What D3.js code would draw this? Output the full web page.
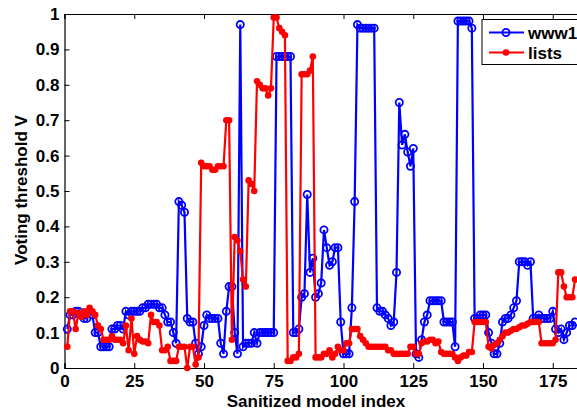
<!DOCTYPE html>
<html>
<head>
<meta charset="utf-8">
<script src="https://cdn.jsdelivr.net/npm/d3@7"></script>
<style>
  body { margin: 0; background: #fff; }
  svg { display: block; font-family: "Liberation Sans", Arial, sans-serif; font-weight: bold; }
</style>
</head>
<body>
<div id="chart"></div>
<script>
const www1 = [0.11,0.15,0.15,0.16,0.16,0.15,0.14,0.14,0.16,0.15,
  0.10,0.10,0.06,0.06,0.06,0.06,0.11,0.11,0.12,0.12,
  0.11,0.16,0.15,0.16,0.16,0.16,0.16,0.17,0.17,0.18,
  0.18,0.18,0.18,0.17,0.17,0.15,0.13,0.13,0.10,0.07,
  0.47,0.46,0.44,0.14,0.13,0.13,0.07,0.04,0.06,0.12,
  0.15,0.14,0.14,0.14,0.14,0.07,0.04,0.16,0.23,0.23,
  0.10,0.04,0.97,0.06,0.07,0.07,0.07,0.10,0.07,0.10,
  0.10,0.10,0.10,0.10,0.10,0.88,0.88,0.88,0.88,0.88,
  0.88,0.10,0.10,0.11,0.20,0.21,0.49,0.27,0.31,0.20,
  0.21,0.24,0.39,0.34,0.29,0.30,0.34,0.34,0.13,0.04,
  0.04,0.04,0.17,0.47,0.97,0.96,0.96,0.96,0.96,0.96,
  0.96,0.17,0.16,0.16,0.15,0.14,0.12,0.13,0.27,0.75,
  0.63,0.66,0.61,0.57,0.62,0.04,0.03,0.08,0.13,0.15,
  0.19,0.19,0.19,0.19,0.19,0.13,0.13,0.13,0.13,0.06,
  0.98,0.98,0.98,0.98,0.98,0.96,0.14,0.14,0.15,0.15,
  0.15,0.10,0.07,0.04,0.04,0.07,0.13,0.14,0.14,0.15,
  0.17,0.19,0.30,0.30,0.30,0.29,0.30,0.14,0.14,0.15,
  0.14,0.14,0.14,0.14,0.16,0.11,0.10,0.11,0.08,0.10,
  0.12,0.12,0.13];

const lists = [0.06,0.16,0.16,0.11,0.155,0.145,0.16,0.15,0.17,0.16,
  0.15,0.12,0.11,0.08,0.08,0.08,0.09,0.08,0.08,0.08,
  0.07,0.12,0.05,0.14,0.04,0.09,0.08,0.075,0.075,0.07,
  0.15,0.13,0.13,0.12,0.05,0.05,0.06,0.02,0.02,0.02,
  0.06,0.06,0.06,0.00,0.06,0.06,0.01,0.03,0.58,0.57,
  0.57,0.57,0.56,0.56,0.57,0.57,0.57,0.70,0.70,0.08,
  0.37,0.36,0.33,0.25,0.23,0.53,0.52,0.50,0.81,0.80,
  0.79,0.79,0.77,0.79,0.99,0.99,0.96,0.95,0.94,0.02,
  0.02,0.03,0.03,0.04,0.83,0.83,0.83,0.84,0.88,0.03,
  0.03,0.03,0.04,0.04,0.05,0.03,0.04,0.06,0.05,0.05,
  0.07,0.07,0.11,0.11,0.11,0.09,0.08,0.07,0.06,0.06,
  0.06,0.06,0.06,0.06,0.06,0.05,0.05,0.04,0.04,0.04,
  0.04,0.04,0.04,0.06,0.06,0.04,0.04,0.07,0.075,0.075,
  0.08,0.08,0.07,0.075,0.045,0.04,0.04,0.04,0.04,0.03,
  0.02,0.03,0.035,0.035,0.045,0.045,0.13,0.13,0.13,0.13,
  0.13,0.06,0.055,0.065,0.07,0.08,0.09,0.10,0.10,0.105,
  0.11,0.11,0.115,0.12,0.12,0.125,0.13,0.13,0.13,0.13,
  0.07,0.07,0.07,0.07,0.07,0.08,0.27,0.27,0.23,0.20,
  0.20,0.20,0.25];

const seriesNames = ["www1", "lists"];
const xTicks = [0, 25, 50, 75, 100, 125, 150, 175];
const yTicks = [0, 0.1, 0.2, 0.3, 0.4, 0.5, 0.6, 0.7, 0.8, 0.9, 1];

const W = 577, H = 410;
const plotLeft = 64.5, plotTop = 14, plotBottom = 368;

const svg = d3.select("#chart").append("svg")
  .attr("width", W).attr("height", H);

const x = d3.scaleLinear().domain([0, 185]).range([plotLeft, plotLeft + 2.79 * 185]);
const y = d3.scaleLinear().domain([0, 1]).range([plotBottom, plotTop]);

// axes box (left, bottom, top)
svg.append("g")
  .attr("transform", `translate(0,${plotBottom})`)
  .call(d3.axisBottom(x).tickValues(xTicks).tickSize(-5).tickPadding(7).tickFormat(d3.format("d")))
  .call(g => g.select(".domain").attr("stroke-width", 1.2))
  .call(g => g.selectAll("text").attr("font-size", 17).attr("font-weight", "bold").attr("fill", "#000"));

svg.append("g")
  .attr("transform", `translate(0,${plotTop})`)
  .call(d3.axisTop(x).tickValues(xTicks).tickSize(-5).tickFormat(""))
  .call(g => g.select(".domain").attr("stroke-width", 1));

svg.append("g")
  .attr("transform", `translate(${plotLeft},0)`)
  .call(d3.axisLeft(y).tickValues(yTicks).tickSize(-5).tickPadding(5).tickFormat(d => d3.format("~g")(d)))
  .call(g => g.select(".domain").attr("stroke-width", 1.2))
  .call(g => g.selectAll("text").attr("font-size", 17).attr("font-weight", "bold").attr("fill", "#000"));

// axis labels
svg.append("text")
  .attr("x", 316).attr("y", 407)
  .attr("text-anchor", "middle")
  .attr("font-size", 17)
  .text("Sanitized model index");

svg.append("text")
  .attr("transform", `translate(27,190) rotate(-90)`)
  .attr("text-anchor", "middle")
  .attr("font-size", 17)
  .text("Voting threshold V");

const line = d3.line().x((d, i) => x(i + 1)).y(d => y(d));

// www1: blue line with open circles
svg.append("path")
  .datum(www1)
  .attr("fill", "none").attr("stroke", "#0000ff").attr("stroke-width", 2.2)
  .attr("d", line);
svg.append("g").selectAll("circle")
  .data(www1).join("circle")
  .attr("cx", (d, i) => x(i + 1)).attr("cy", d => y(d))
  .attr("r", 3.6)
  .attr("fill", "none").attr("stroke", "#0000ff").attr("stroke-width", 1.8);

// lists: red line with filled dots
svg.append("path")
  .datum(lists)
  .attr("fill", "none").attr("stroke", "#ff0000").attr("stroke-width", 2.2)
  .attr("d", line);
svg.append("g").selectAll("circle")
  .data(lists).join("circle")
  .attr("cx", (d, i) => x(i + 1)).attr("cy", d => y(d))
  .attr("r", 3.3)
  .attr("fill", "#ff0000");

// legend
const lg = svg.append("g");
lg.append("rect")
  .attr("x", 482).attr("y", 19.5).attr("width", 110).attr("height", 45)
  .attr("fill", "#fff").attr("stroke", "#000").attr("stroke-width", 1);
const colors = ["#0000ff", "#ff0000"];
seriesNames.forEach((name, k) => {
  const ly = 32.5 + k * 20;
  lg.append("line")
    .attr("x1", 489).attr("x2", 524).attr("y1", ly).attr("y2", ly)
    .attr("stroke", colors[k]).attr("stroke-width", 2.2);
  if (k === 0) {
    lg.append("circle").attr("cx", 506).attr("cy", ly).attr("r", 3.6)
      .attr("fill", "none").attr("stroke", colors[k]).attr("stroke-width", 1.8);
  } else {
    lg.append("circle").attr("cx", 506).attr("cy", ly).attr("r", 3.3)
      .attr("fill", colors[k]);
  }
  lg.append("text")
    .attr("x", 528).attr("y", ly + 6)
    .attr("font-size", 17)
    .text(name);
});
</script>
</body>
</html>
